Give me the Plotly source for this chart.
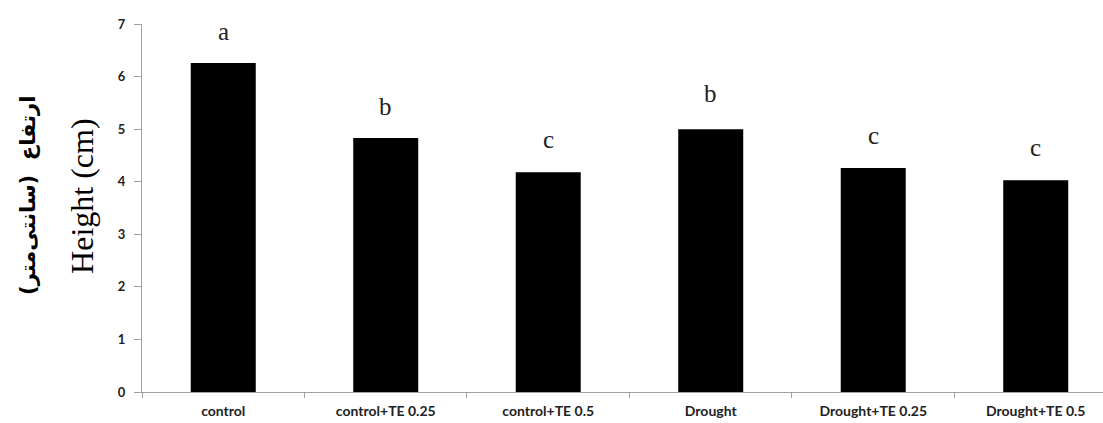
import plotly.graph_objects as go

categories = ["control", "control+TE 0.25", "control+TE 0.5", "Drought", "Drought+TE 0.25", "Drought+TE 0.5"]
heights = [6.26, 4.83, 4.18, 5.0, 4.26, 4.03]
letters = ["a", "b", "c", "b", "c", "c"]
letter_offset = [0.6, 0.6, 0.62, 0.68, 0.62, 0.62]

fig = go.Figure()
fig.add_trace(go.Bar(x=categories, y=heights, width=0.4,
                     marker=dict(color="black", line=dict(color="black", width=0)),
                     showlegend=False))

for c, h, l, o in zip(categories, heights, letters, letter_offset):
    fig.add_annotation(x=c, y=h + o, text=l, showarrow=False, xref="x", yref="y",
                       font=dict(family="Liberation Serif", size=25, color="#222"))

fig.add_annotation(xref="paper", yref="paper", x=-0.1186, y=0.533, textangle=-90,
                   text="<b>ارتفاع  (سانتی‌متر)</b>", showarrow=False,
                   xanchor="center", yanchor="middle",
                   font=dict(family="DejaVu Sans", size=21, color="black"))
fig.add_annotation(xref="paper", yref="paper", x=-0.0624, y=0.533, textangle=-90,
                   text="Height (cm)", showarrow=False,
                   xanchor="center", yanchor="middle",
                   font=dict(family="Liberation Serif", size=32, color="black"))

fig.update_layout(
    width=1103, height=423,
    margin=dict(l=142, r=0, t=24, b=31),
    plot_bgcolor="white", paper_bgcolor="white",
    xaxis=dict(type="category", range=[-0.5, 5.414], showline=True, linecolor="#a0a0a0",
               linewidth=1, ticks="outside", tickson="boundaries", ticklen=5,
               tickcolor="#a0a0a0", showgrid=False, ticklabelstandoff=6,
               tickfont=dict(family="Lato", size=14, color="#222", weight="bold")),
    yaxis=dict(range=[0, 7], dtick=1, showline=True, linecolor="#a0a0a0", linewidth=1,
               ticks="outside", ticklen=7, tickcolor="#a0a0a0", showgrid=False,
               zeroline=False, ticklabelstandoff=6,
               tickfont=dict(family="Lato", size=13, color="#222", weight="bold")),
)

fig.write_html("out.html")
